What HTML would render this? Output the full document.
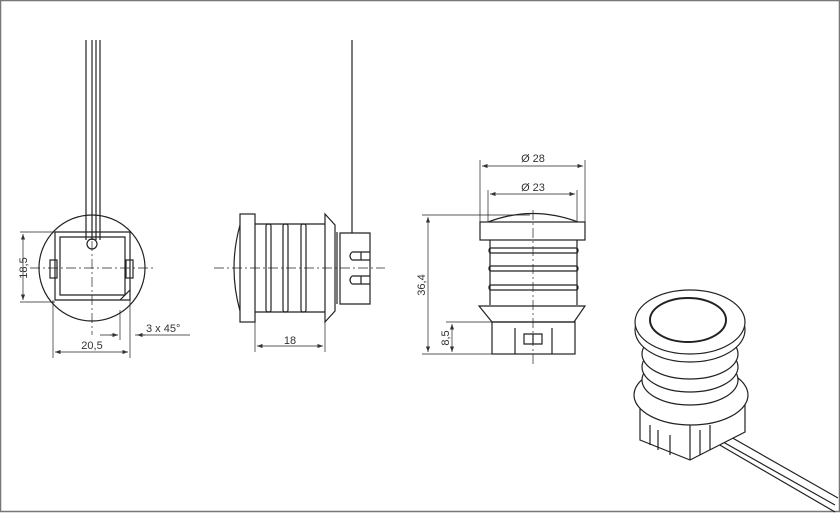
<!DOCTYPE html>
<html><head><style>body{margin:0;background:#fff}svg{display:block}text{font-family:"Liberation Sans",sans-serif;font-size:11px;fill:#333}</style></head><body>
<svg width="840" height="513" viewBox="0 0 840 513" xmlns="http://www.w3.org/2000/svg">
<defs><marker id="a" markerWidth="8" markerHeight="6" refX="8" refY="3" orient="auto-start-reverse"><path d="M0,0 L8,3 L0,6" fill="#333"/></marker></defs>
<rect x="0.5" y="0.5" width="839" height="511" fill="none" stroke="#777" stroke-width="1.5"/>
<g fill="none" stroke="#222" stroke-width="1.2">
<!-- view 1 -->
<path d="M86,40 V240 M92,40 V240 M96,40 V240 M100,40 V240"/>
<circle cx="92" cy="268" r="53"/>
<path d="M55,232 H130 V300 H55 Z M60,237 H125 V295 H60 Z"/>
<circle cx="92" cy="244" r="5"/>
<rect x="50" y="260" width="7" height="18"/><rect x="126" y="260" width="7" height="18"/>
<path d="M120,300 L130,290"/>
<g stroke-width="0.7" stroke-dasharray="10,3,2,3"><path d="M30,268 H155 M92,205 V335"/></g>
<g stroke-width="0.7"><path d="M20,232 H55 M20,302 H55" /><path d="M23,234 V300" marker-start="url(#a)" marker-end="url(#a)"/>
<path d="M53,300 V358 M130,300 V358"/><path d="M55,352 H128" marker-start="url(#a)" marker-end="url(#a)"/>
<path d="M100,335 H118 M135,335 H190" /><path d="M110,335 H118" marker-end="url(#a)"/><path d="M145,335 H137" marker-end="url(#a)"/><path d="M120,310 V340"/></g>
<!-- view 2 -->
<path d="M352,40 V233"/>
<rect x="240" y="214" width="15" height="108"/>
<path d="M240,225 Q228,268 240,311"/>
<path d="M255,224 H325 M255,312 H325"/>
<rect x="266" y="224" width="5" height="88" rx="2"/><rect x="283" y="224" width="5" height="88" rx="2"/><rect x="301" y="224" width="5" height="88" rx="2"/>
<path d="M325,214 L335,225 V311 L325,322 Z"/>
<path d="M337,232 V304 M340,233 H370 V304 H340 Z M352,252 H370 M352,260 H370 M352,276 H370 M352,284 H370 M352,252 Q348,256 352,260 M352,276 Q348,280 352,284 M361,252 V260 M361,276 V284"/>
<g stroke-width="0.7"><path d="M214,268 H385" stroke-dasharray="10,3,2,3"/>
<path d="M255,322 V352 M325,322 V352"/><path d="M257,346 H323" marker-start="url(#a)" marker-end="url(#a)"/></g>
<!-- view 3 -->
<path d="M488,222 Q533,205 578,222"/>
<rect x="480" y="222" width="105" height="18"/>
<path d="M490,240 V305 M577,240 V305"/>
<rect x="489" y="248" width="89" height="5" rx="2"/><rect x="489" y="266" width="89" height="5" rx="2"/><rect x="489" y="285" width="89" height="5" rx="2"/>
<path d="M479,306 H585 L574,322 H492 Z"/>
<rect x="492" y="322" width="83" height="32"/>
<path d="M515,328 V354 M552,328 V354 M524,334 H542 V344 H524 Z M533,334 V344"/>
<g stroke-width="0.7"><path d="M533,210 V365" stroke-dasharray="10,3,2,3"/>
<path d="M480,222 V160 M585,222 V160"/><path d="M482,166 H583" marker-start="url(#a)" marker-end="url(#a)"/>
<path d="M488,222 V190 M577,222 V190"/><path d="M490,194 H575" marker-start="url(#a)" marker-end="url(#a)"/>
<path d="M422,215 H530 M422,354 H492"/><path d="M428,217 V352" marker-start="url(#a)" marker-end="url(#a)"/>
<path d="M446,322 H492"/><path d="M452,324 V352" marker-start="url(#a)" marker-end="url(#a)"/></g>
<!-- iso -->
<path d="M716,438 L835,505 M722,432 L838,498 M718,444 L835,512"/>
<path d="M640,408 V440 L690,460 L745,432 V405 L690,425 Z" fill="#fff"/>
<path d="M690,425 V460"/>
<path d="M650,425 V445 M658,430 V450 M670,435 V455 M700,430 V455 M710,425 V450"/>
<ellipse cx="691" cy="395" rx="57" ry="30" fill="#fff"/>
<ellipse cx="690" cy="380" rx="48" ry="25" fill="#fff"/><ellipse cx="690" cy="367" rx="48" ry="25" fill="#fff"/><ellipse cx="690" cy="354" rx="48" ry="25" fill="#fff"/>
<ellipse cx="690" cy="330" rx="55" ry="32" fill="#fff"/>
<ellipse cx="690" cy="322" rx="55" ry="32" fill="#fff"/>
<ellipse cx="688" cy="320" rx="38" ry="22" stroke-width="2"/>
</g>
<text x="27" y="268" transform="rotate(-90 27 268)" text-anchor="middle">18,5</text>
<text x="92" y="349" text-anchor="middle">20,5</text>
<text x="146" y="332">3  x 45°</text>
<text x="290" y="344" text-anchor="middle">18</text>
<text x="533" y="162" text-anchor="middle">Ø  28</text>
<text x="533" y="191" text-anchor="middle">Ø  23</text>
<text x="425" y="285" transform="rotate(-90 425 285)" text-anchor="middle">36,4</text>
<text x="449" y="338" transform="rotate(-90 449 338)" text-anchor="middle">8,5</text>
</svg></body></html>
